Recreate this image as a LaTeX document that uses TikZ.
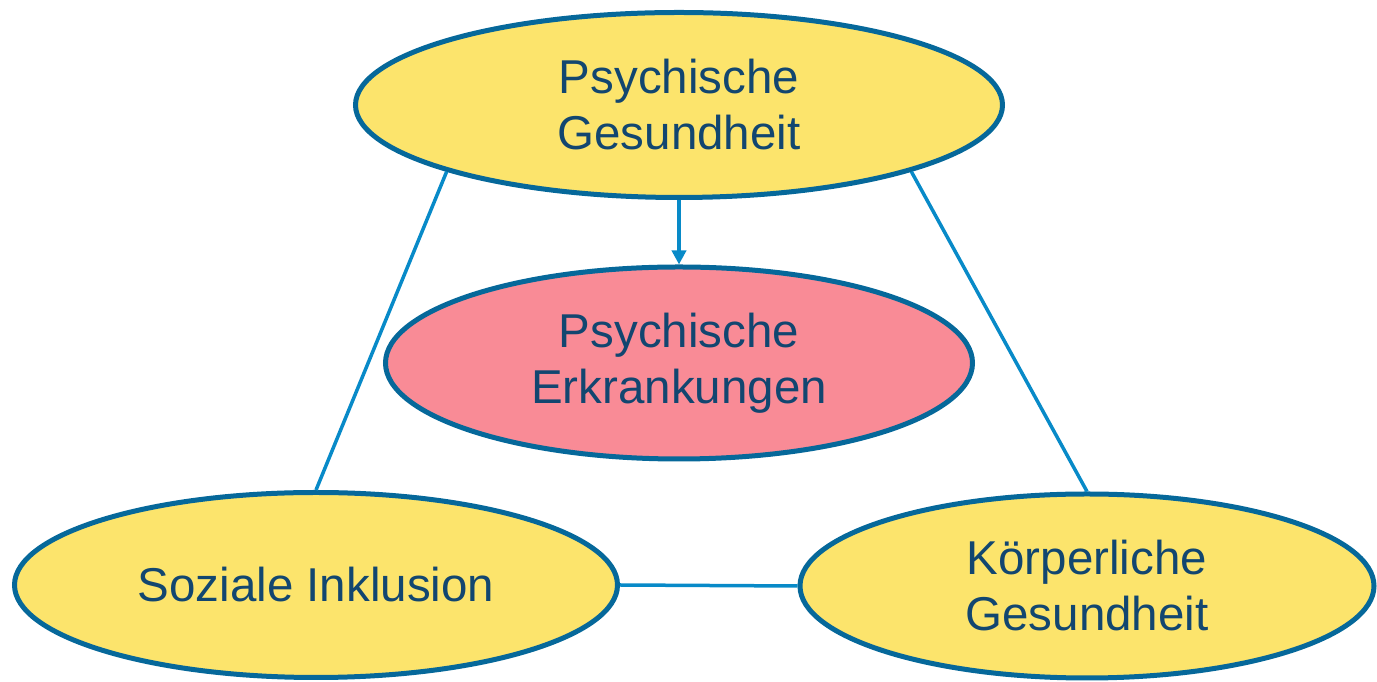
\documentclass[tikz,border=0pt]{standalone}
\usepackage{fontspec}
\setmainfont{Liberation Sans}
\usetikzlibrary{shapes.geometric,arrows.meta}
\definecolor{fillyellow}{RGB}{252,228,108}
\definecolor{fillpink}{RGB}{249,139,150}
\definecolor{rimblue}{RGB}{6,104,154}
\definecolor{linkblue}{RGB}{8,138,200}
\definecolor{txtblue}{RGB}{18,70,112}
\tikzset{
  bubble/.style={ellipse, draw=rimblue, line width=5pt, inner sep=0pt,
    align=center, text=txtblue, font=\fontsize{47.5}{56}\selectfont},
  link/.style={draw=linkblue, line width=3.5pt},
}
\begin{document}
\begin{tikzpicture}[x=1pt,y=1pt]
\useasboundingbox (0,0) rectangle (1377,682);
\node[bubble, fill=fillyellow, minimum width=647, minimum height=185] (top) at (679,577) {Psychische\\Gesundheit};
\node[bubble, fill=fillpink, minimum width=587, minimum height=192] (mid) at (679,319) {Psychische\\Erkrankungen};
\node[bubble, fill=fillyellow, minimum width=603, minimum height=185] (soz) at (316,97) {Soziale Inklusion};
\node[bubble, fill=fillyellow, minimum width=574, minimum height=184] (koe) at (1087,96) {Körperliche\\Gesundheit};
\draw[link] (top.196) -- (soz.north);
\draw[link] (top.-16) -- (koe.north);
\draw[link] (soz.east) -- (koe.west);
\draw[link, -{Triangle[width=14pt,length=14pt]}] (top.south) -- (mid.north);
\end{tikzpicture}
\end{document}
